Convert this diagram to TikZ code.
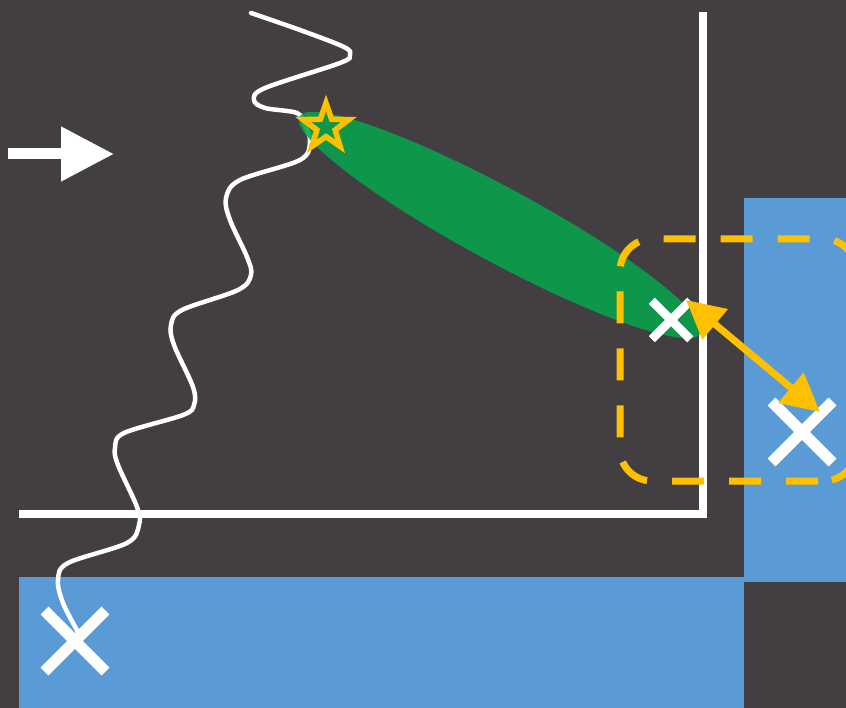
\documentclass[tikz,border=0pt]{standalone}
\usepackage{tikz}
\usetikzlibrary{arrows.meta,shapes.geometric,shapes.misc}
\definecolor{slate}{RGB}{66,62,66}
\definecolor{sky}{RGB}{91,155,213}
\definecolor{leaf}{RGB}{7,164,76}
\definecolor{amber}{RGB}{255,192,0}

\begin{document}
\begin{tikzpicture}[x=1pt, y=-1pt,
  xmark/.style={cross out, draw=white, line width=11pt, minimum size=50pt, inner sep=0pt},
  axis/.style={draw=white, line width=7.5pt},
  wave/.style={draw=white, line width=4.5pt, line cap=round},
  region/.style={draw=amber, line width=7pt, dash pattern=on 32pt off 25pt, rounded corners=32pt},
  twoway/.style={draw=amber, line width=7pt,
                 {Triangle[length=38pt,width=38pt]}-{Triangle[length=38pt,width=38pt]}}]
  \useasboundingbox (0,0) rectangle (846,708);
  \clip (0,0) rectangle (846,708);
  \fill[slate] (0,0) rectangle (846,708);
  \fill[sky] (19,577) rectangle (744,708);
  \fill[sky] (744,198) rectangle (846,582);
  \draw[axis] (703,12) |- (19,514);

  \draw[wave] plot[smooth, tension=0.55] coordinates {
    (251,13) (300,30) (344,47) (350,55) (340,63) (265,88) (254,100) (265,108)
    (297,113) (305,125) (310,142) (300,160) (240,180) (226,198) (230,220)
    (247,257) (251,275) (238,290) (182,310) (171,325) (174,345) (193,387)
    (194,405) (183,415) (124,433) (115,448) (118,465) (137,507) (139,525)
    (127,543) (68,563) (58,580) (63,603) (78,632)};

  \fill[leaf, fill opacity=0.88, rotate around={-28.4:(500,225)}]
    (500,225) ellipse [x radius=228, y radius=37];
  \node (emit) [star, star points=5, star point ratio=2.5, minimum size=48pt,
                inner sep=0pt, draw=amber, line width=5.5pt] at (326,127) {};

  \draw[region] (818,481) -- (620,481) -- (620,239) -- (856,239) -- (856,481) -- (818,481);

  \node (hit) [xmark, line width=8.5pt, minimum size=30pt] at (671,320) {};
  \node (det) [xmark] at (802,432) {};
  \node (orig) [xmark] at (75,641) {};

  \coordinate (hitend) at (686,300);
  \coordinate (detend) at (820,412);
  \draw[twoway] (hitend) -- (detend);

  \coordinate (beamA) at (8,154);
  \coordinate (beamB) at (114,154);
  \draw[white, line width=11pt, -{Triangle[length=53pt,width=52pt]}] (beamA) -- (beamB);
\end{tikzpicture}
\end{document}
